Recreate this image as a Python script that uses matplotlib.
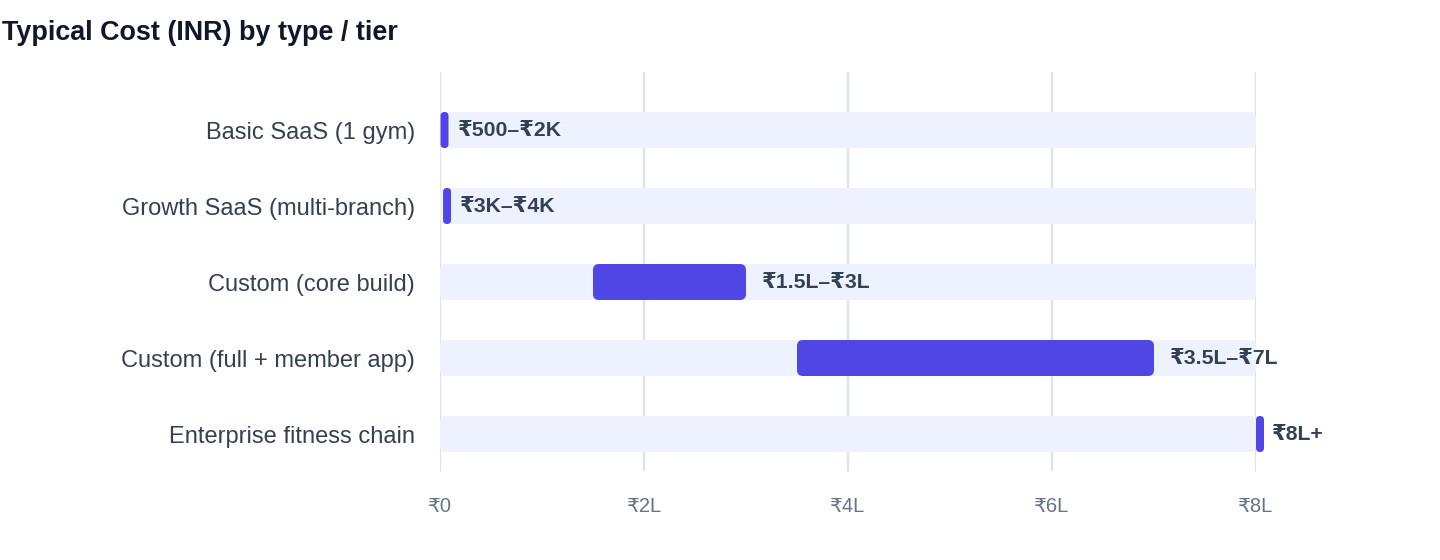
import numpy as np
import matplotlib.pyplot as plt
from matplotlib.patches import FancyBboxPatch

plt.rcParams['font.family'] = ['Liberation Sans', 'DejaVu Sans']

# data (INR)
categories = ["Basic SaaS (1 gym)", "Growth SaaS (multi-branch)", "Custom (core build)",
              "Custom (full + member app)", "Enterprise fitness chain"]
low = [500, 3000, 150000, 350000, 800000]
high = [2000, 4000, 300000, 700000, 800000]
range_labels = ["₹500–₹2K", "₹3K–₹4K", "₹1.5L–₹3L", "₹3.5L–₹7L", "₹8L+"]
x_max = 800000
x_ticks = [0, 200000, 400000, 600000, 800000]
x_ticklabels = ["₹0", "₹2L", "₹4L", "₹6L", "₹8L"]

bar_col = "#4F46E5"
track_col = "#EEF2FF"
grid_col = "#DDE3EC"

W, H = 1440, 560
fig = plt.figure(figsize=(W / 100, H / 100), dpi=100)
ax_l, ax_r, ax_t, ax_b = 440, 1256, 72, 471
ax = fig.add_axes([ax_l / W, 1 - ax_b / H, (ax_r - ax_l) / W, (ax_b - ax_t) / H])

row_px = 76
first_row = 130
ax.set_xlim(0, x_max)
ax.set_ylim(len(categories) - 1 + (ax_b - (first_row + 4 * row_px)) / row_px,
            -(first_row - ax_t) / row_px)

xpp = x_max / (ax_r - ax_l)   # x data per pixel
ypp = 1 / row_px              # y data per pixel
bar_h = 36 * ypp
aspect = ypp / xpp


def rbar(x0, w, y, color, rad_px=6):
    r = min(rad_px, w / xpp / 2) * xpp
    p = FancyBboxPatch((x0, y - bar_h / 2), w, bar_h,
                       boxstyle="round,pad=0,rounding_size=%f" % r,
                       mutation_aspect=aspect, fc=color, ec="none", zorder=3,
                       clip_on=False)
    ax.add_patch(p)


min_w = 8 * xpp
for i, cat in enumerate(categories):
    rbar(0, x_max, i, track_col)
    w = max(high[i] - low[i], min_w)
    rbar(low[i], w, i, bar_col)
    ax.annotate(range_labels[i], (high[i], i), xytext=(16 * 0.72, 0),
                textcoords="offset points", va="center", ha="left",
                fontsize=15.3, fontweight="bold", color="#334155", zorder=4)

ax.set_yticks(range(len(categories)))
ax.set_yticklabels(categories, fontsize=17, color="#334155")
ax.set_xticks(x_ticks)
ax.set_xticklabels(x_ticklabels, fontsize=14.5, color="#64748B")
ax.tick_params(axis="y", length=0, pad=18)
ax.tick_params(axis="x", length=0, pad=19)
for s in ax.spines.values():
    s.set_visible(False)
ax.grid(axis="x", color=grid_col, linewidth=1.6, zorder=0)
ax.set_axisbelow(True)

fig.text(2 / W, 1 - 33 / H, "Typical Cost (INR) by type / tier", fontsize=19.4,
         fontweight="bold", color="#0F172A", va="center", ha="left")

fig.savefig("out.png", dpi=100)
